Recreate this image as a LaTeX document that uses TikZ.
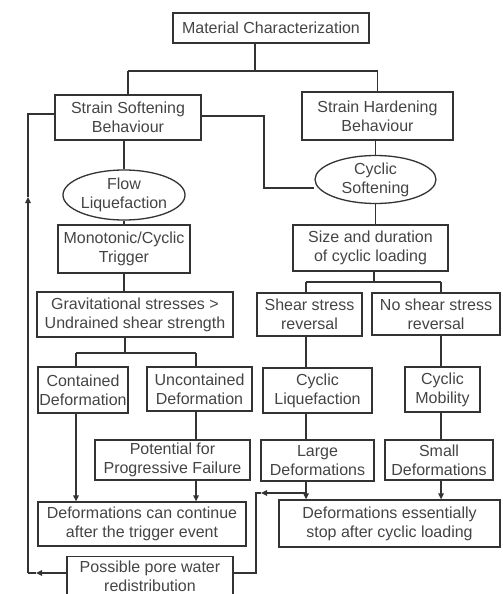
\documentclass[tikz,border=0pt]{standalone}
\usepackage{fontspec}
\setmainfont{Liberation Sans}
\usetikzlibrary{shapes.geometric,arrows.meta}
\definecolor{ink}{HTML}{333333}
\definecolor{txt}{HTML}{444444}
\begin{document}
\begin{tikzpicture}[x=1pt,y=-1pt,
  every node/.style={font=\fontsize{16}{19}\selectfont, text=txt, align=center, inner sep=0pt},
  bx/.style={draw=ink, line width=1.3pt, rectangle},
  el/.style={draw=ink, line width=1.3pt, ellipse},
  ln/.style={draw=ink, line width=1.3pt},
  ar/.style={ln, -{Triangle[length=6pt,width=5.5pt]}}
]
\useasboundingbox (0,0) rectangle (503,594);
% nodes
\node[bx, minimum width=196pt, minimum height=30pt] (mc) at (271,28) {Material Characterization};
\node[bx, minimum width=146pt, minimum height=45pt] (ss) at (128,117.5) {Strain Softening\\Behaviour};
\node[bx, minimum width=151pt, minimum height=48pt] (sh) at (377.5,116) {Strain Hardening\\Behaviour};
\node[el, minimum width=122pt, minimum height=50pt] (fl) at (124,195) {Flow\\Liquefaction};
\node[el, minimum width=121pt, minimum height=42pt] (cs) at (375.5,179.5) {Cyclic\\Softening};
\node[bx, minimum width=132pt, minimum height=48pt] (mct) at (124,249) {Monotonic/Cyclic\\Trigger};
\node[bx, minimum width=196pt, minimum height=45pt] (gs) at (135,314.5) {Gravitational stresses >\\Undrained shear strength};
\node[bx, minimum width=90pt, minimum height=46pt] (cd) at (83,390) {Contained\\Deformation};
\node[bx, minimum width=105pt, minimum height=44pt] (ud) at (199.5,389) {Uncontained\\Deformation};
\node[bx, minimum width=155pt, minimum height=40pt] (pf) at (172.5,460) {Potential for\\Progressive Failure};
\node[bx, minimum width=208pt, minimum height=44pt] (dc) at (142,524) {Deformations can continue\\after the trigger event};
\node[bx, minimum width=155pt, minimum height=46pt] (sd) at (370.5,248) {Size and duration\\of cyclic loading};
\node[bx, minimum width=105pt, minimum height=43pt] (ssr) at (309.5,314.5) {Shear stress\\reversal};
\node[bx, minimum width=128pt, minimum height=42pt] (nssr) at (436,314) {No shear stress\\reversal};
\node[bx, minimum width=109pt, minimum height=45pt] (cl) at (317.5,390.5) {Cyclic\\Liquefaction};
\node[bx, minimum width=75pt, minimum height=45pt] (cm) at (442.5,389.5) {Cyclic\\Mobility};
\node[bx, minimum width=113pt, minimum height=41pt] (ld) at (317.5,460.5) {Large\\Deformations};
\node[bx, minimum width=108pt, minimum height=40pt] (sdf) at (439,460) {Small\\Deformations};
\node[bx, minimum width=221pt, minimum height=47pt] (de) at (389.5,523.5) {Deformations essentially\\stop after cyclic loading};
\node[bx, minimum width=166pt, minimum height=40pt] (pw) at (150,576.5) {Possible pore water\\redistribution};
% helper coordinates
\coordinate (j1) at (255,71);
\coordinate (j2) at (125,353);
\coordinate (j3) at (374,282);
\coordinate (sa) at (264,116);
\coordinate (sb) at (264,188);
\coordinate (lb) at (28,573);
\coordinate (lt) at (28,114);
\coordinate (lm) at (28,197);
\coordinate (la) at (36,573);
\coordinate (ra) at (256,573);
\coordinate (rb) at (256,493);
\coordinate (rm) at (261,493);
\coordinate (rj) at (306,493);
% tree connectors
\draw[ln] (mc.south -| j1) -- (j1);
\draw[ln] (j1 -| ss.north) -- (j1 -| sh.north);
\draw[ln] (j1 -| ss.north) -- (ss.north);
\draw[ln] (j1 -| sh.north) -- (sh.north);
\draw[ln] (ss.south -| fl.north) -- (fl.north);
\draw[ln] (sh.south -| cs.north) -- (cs.north);
\draw[ln] (ss.east |- sa) -- (sa) -- (sb) -- (sb -| cs.west);
\draw[ln] (fl.south) -- (fl.south |- mct.north);
\draw[ln] (mct.south) -- (mct.south |- gs.north);
\draw[ln] (gs.south -| j2) -- (j2);
\draw[ln] (j2 -| 76,0) -- (j2 -| 196,0);
\draw[ln] (j2 -| 76,0) -- (cd.north -| 76,0);
\draw[ln] (j2 -| 196,0) -- (ud.north -| 196,0);
\draw[ar] (cd.south -| 76,0) -- (dc.north -| 76,0);
\draw[ln] (ud.south -| 196,0) -- (pf.north -| 196,0);
\draw[ar] (pf.south -| 196,0) -- (dc.north -| 196,0);
\draw[ln] (cs.south) -- (cs.south |- sd.north);
\draw[ln] (sd.south -| j3) -- (j3);
\draw[ln] (j3 -| 306,0) -- (j3 -| 441,0);
\draw[ln] (j3 -| 306,0) -- (ssr.north -| 306,0);
\draw[ln] (j3 -| 441,0) -- (nssr.north -| 441,0);
\draw[ln] (ssr.south -| 306,0) -- (cl.north -| 306,0);
\draw[ln] (nssr.south -| 441,0) -- (cm.north -| 441,0);
\draw[ln] (cl.south -| 306,0) -- (ld.north -| 306,0);
\draw[ln] (cm.south -| 441,0) -- (sdf.north -| 441,0);
\draw[ar] (sdf.south -| 441,0) -- (de.north -| 441,0);
\draw[ln] (ld.south -| 306,0) -- (rj);
\draw[ar] (rj) -- (de.north -| 306,0);
% feedback loops
\draw[ar] (rj) -- (rm);
\draw[ln] (rm) -- (rb) -- (ra) -- (pw.east |- ra);
\draw[ar] (pw.west |- la) -- (la);
\draw[ln] (la) -- (lb);
\draw[ar] (lb) -- (lm);
\draw[ln] (lm) -- (lt) -- (ss.west |- lt);
\end{tikzpicture}
\end{document}
